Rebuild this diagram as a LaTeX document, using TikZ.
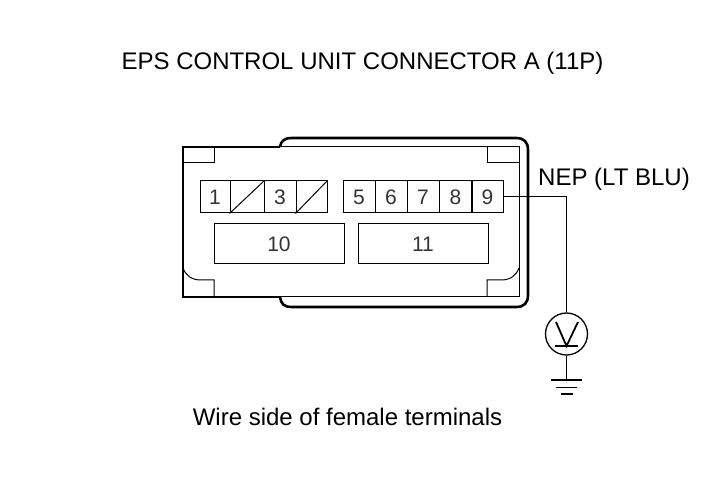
\documentclass[tikz,border=0pt]{standalone}
\usepackage{fontspec}
\setmainfont{Liberation Sans}
\tikzset{
    pinbox/.style={draw,line width=1pt,inner sep=0pt,minimum height=32pt,text=black!80,font=\fontsize{21}{21}\selectfont},
    bigbox/.style={draw,line width=1pt,inner sep=0pt,minimum width=130pt,minimum height=40pt,text=black!80,font=\fontsize{21}{21}\selectfont},
    caption/.style={inner sep=0pt,font=\fontsize{24}{24}\selectfont},
    shell/.style={line width=2.6pt},
    thin line/.style={line width=1pt}
}
\begin{document}
\begin{tikzpicture}[x=1pt,y=-1pt]
            \useasboundingbox (0,0) rectangle (702,486);

            %texts
            \node[caption] (title) at (362.5,63.5) {EPS CONTROL UNIT CONNECTOR A (11P)};

            \node[caption] (nep) at (614,179.5) {NEP (LT BLU)};

            \node[caption] (side) at (347.5,417) {Wire side of female terminals};

            %housing
            \draw[thin line] (280,147)--(519,147)--(519,297)--(280,297);

            \draw[shell] (280,147)--(183,147)--(183,297)--(280,297);

            \draw[shell] (280,147) .. controls (281,141) and (284,138) .. (292,138)--(516,138) .. controls (524,138) and (528,142) .. (528,150)--(528,295) .. controls (528,303) and (524,307) .. (516,307)--(292,307) .. controls (284,307) and (281,304) .. (280,297);

            %corners
            \draw[thin line] (184,163)--(214,163)--(214,147);

            \draw[thin line] (183,268) .. controls (186,276) and (192,280) .. (201,280)--(214,280)--(214,297);

            \draw[thin line] (519,163)--(487,163)--(487,147);

            \draw[thin line] (519,268) .. controls (516,276) and (510,280) .. (501,280)--(487,280)--(487,297);

            %pins
            \node[pinbox,minimum width=30pt] (pin1) at (215,197) {1};

            \node[pinbox,minimum width=34pt] (pin2) at (247,197) {};

            \node[pinbox,minimum width=32pt] (pin3) at (280,197) {3};

            \node[pinbox,minimum width=31pt] (pin4) at (311.5,197) {};

            \draw[thin line] (pin2.south west)--(pin2.north east);

            \draw[thin line] (pin4.south west)--(pin4.north east);

            \node[pinbox,minimum width=32pt] (pin5) at (359,197) {5};

            \node[pinbox,minimum width=32pt] (pin6) at (391,197) {6};

            \node[pinbox,minimum width=32pt] (pin7) at (423,197) {7};

            \node[pinbox,minimum width=32pt] (pin8) at (455.5,197) {8};

            \node[pinbox,minimum width=31pt] (pin9) at (487.5,197) {9};

            \node[bigbox] (pin10) at (279,244) {10};

            \node[bigbox] (pin11) at (423,244) {11};

            %meter
            \node[draw,circle,line width=1.3pt,minimum size=42pt,inner sep=0pt] (meter) at (566.5,334) {};

            \coordinate (gnd) at (566.5,380);

            \draw[thin line] (pin9.east) -| (meter.north);

            \draw[thin line] (meter.south)--(gnd);

            \draw[line width=1.8pt] (556,322)--(566.5,346)--(578,322);

            \draw[line width=1.8pt] (555,346)--(578,346);

            \draw[line width=1.8pt] (551,380)--(582,380);

            \draw[line width=1.2pt] (556,387.5)--(577,387.5);

            \draw[line width=1.2pt] (561,394)--(573,394);
        \end{tikzpicture}
\end{document}
